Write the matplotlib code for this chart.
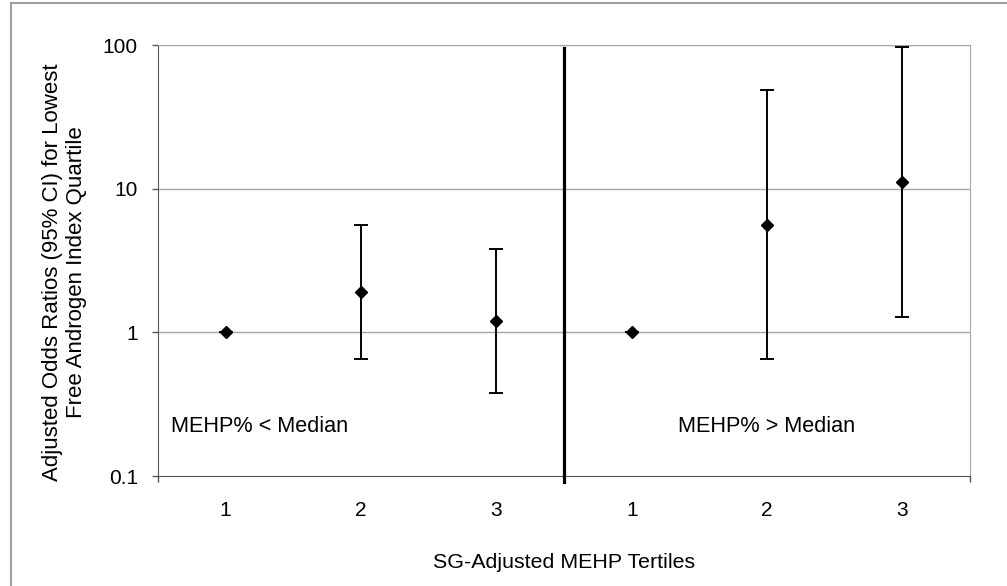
import matplotlib
matplotlib.use("Agg")
import matplotlib.pyplot as plt
from matplotlib.patches import Rectangle

plt.rcParams['font.family'] = ['Liberation Sans', 'DejaVu Sans']

# odds ratios and 95% CI per tertile, two MEHP% groups
positions = [1, 2, 3, 4, 5, 6]
tick_labels = ['1', '2', '3', '1', '2', '3']
odds = [1.0, 1.91, 1.2, 1.0, 5.6, 11.2]
ci_low = [1.0, 0.65, 0.38, 1.0, 0.65, 1.28]
ci_high = [1.0, 5.58, 3.82, 1.0, 48.3, 96.7]
group_labels = ['MEHP% < Median', 'MEHP% > Median']

err_lo = [o - l for o, l in zip(odds, ci_low)]
err_hi = [h - o for o, h in zip(odds, ci_high)]

fig = plt.figure(figsize=(10.07, 5.86), dpi=100)
ax = fig.add_axes([0.1569, 0.1877, 0.8064, 0.7355])

ax.set_yscale('log')
ax.set_ylim(0.1, 100)
ax.set_xlim(0.5, 6.5)

ax.errorbar(positions, odds, yerr=[err_lo, err_hi], fmt='D', color='black',
            ms=6.3, elinewidth=1.4, capsize=5, capthick=1.4, zorder=3)

# divider between the two groups
ax.axvline(3.5, ymin=-0.014, ymax=0.993, color='black', lw=2.3, clip_on=False, zorder=4)

for yv in [1, 10, 100]:
    ax.axhline(yv, color='#a6a6a6', lw=1, zorder=1)

ax.text(1.25, 0.22, group_labels[0], ha='center', va='center', fontsize=15.6)
ax.text(5.0, 0.22, group_labels[1], ha='center', va='center', fontsize=15.6)

ax.set_yticks([0.1, 1, 10, 100])
ax.set_yticklabels(['0.1', '1', '10', '100'])
ax.yaxis.set_minor_locator(matplotlib.ticker.NullLocator())
ax.tick_params(axis='y', which='major', length=4.5, width=1, color='#555555',
               pad=10, labelsize=15)

ax.set_xticks(positions)
ax.set_xticklabels(tick_labels)
ax.set_xticks([0.5, 6.5], minor=True)
ax.tick_params(axis='x', which='major', length=0, pad=18, labelsize=15)
ax.tick_params(axis='x', which='minor', length=4.5, width=1, color='#555555')

for side in ['top', 'right']:
    ax.spines[side].set_color('#a6a6a6')
for side in ['left', 'bottom']:
    ax.spines[side].set_color('#555555')

ax.set_xlabel('SG-Adjusted MEHP Tertiles', fontsize=15.4, labelpad=24)
ax.set_ylabel('Adjusted Odds Ratios (95% CI) for Lowest\nFree Androgen Index Quartile',
              fontsize=16)
ax.yaxis.set_label_coords(-0.087, 0.472)

# outer chart border (only top and left visible in the crop)
fig.patches.append(Rectangle((11 / 1007, -0.1), 1.2, 1.1 - 3 / 586, transform=fig.transFigure,
                             fill=False, edgecolor='#a0a0a0', lw=1.5))

fig.savefig('out.png', dpi=100)
